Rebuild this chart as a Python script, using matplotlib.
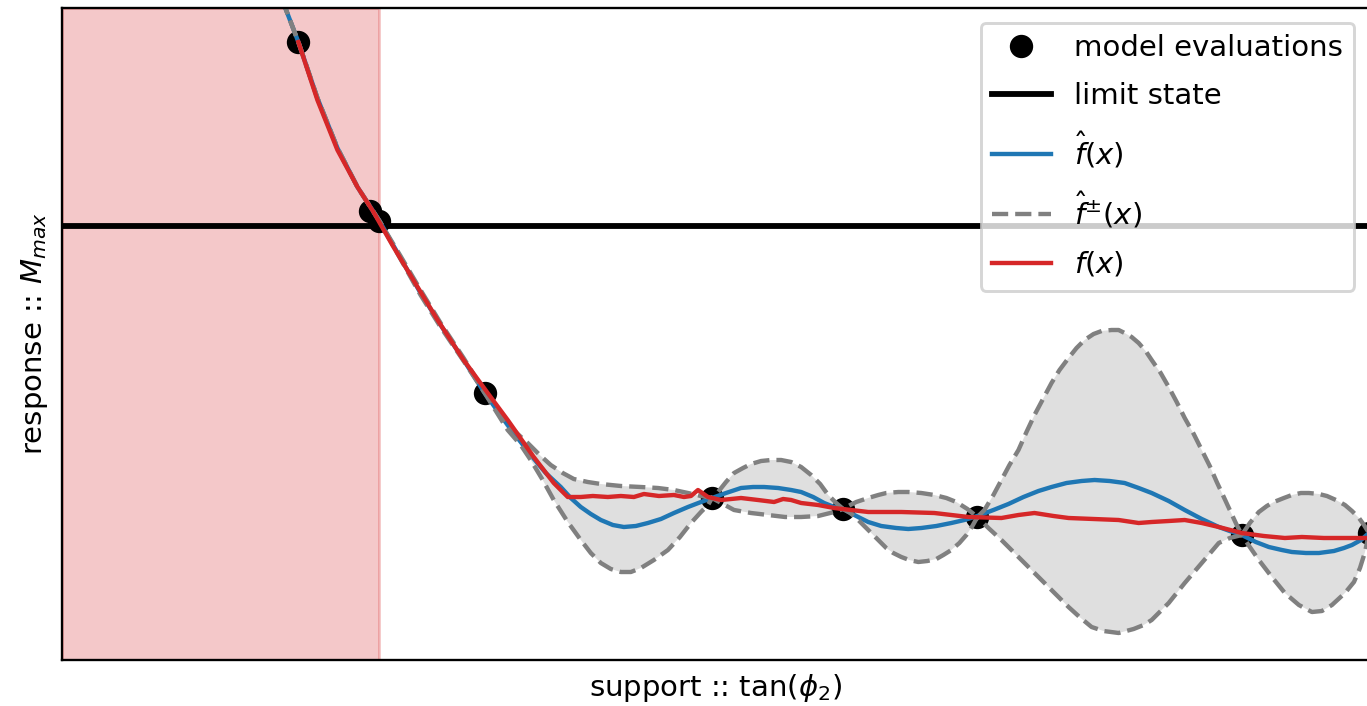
import numpy as np
import matplotlib
matplotlib.use("Agg")
import matplotlib.pyplot as plt

# axis units are arbitrary (no ticks shown): x = support, y = response
limit_state = 434
failure_edge = 317

# model evaluations
eval_x = [236, 308, 317, 422, 649, 780, 914, 1178, 1305]
eval_y = [618, 449, 439, 267, 162, 151, 143, 125, 127]

# true response f(x)
true_x = [236, 255, 275, 295, 311, 331, 355, 375, 401, 425, 445, 471, 491, 505,
          518, 530, 545, 558, 571, 581, 596, 611, 621, 628, 635, 645, 658, 668,
          678, 695, 711, 720, 728, 738, 755, 771, 788, 805, 838, 871, 905, 938,
          955, 971, 990, 1005, 1030, 1055, 1075, 1088, 1105, 1121, 1138, 1155,
          1178, 1200, 1221, 1238, 1260, 1288, 1305]
true_y = [618, 560, 510, 473, 448, 413, 373, 340, 300, 267, 240, 203, 177, 163,
          163, 164, 163, 164, 163, 166, 164, 165, 163, 164, 170, 163, 160, 161,
          162, 160, 158, 161, 160, 157, 155, 152, 150, 148, 148, 147, 143, 142,
          145, 147, 144, 142, 141, 140, 137, 138, 139, 140, 137, 133,
          127, 124, 122, 123, 122, 122, 122]

# surrogate mean f_hat(x)
mean_x = [214, 223, 236, 255, 275, 295, 317, 338, 358, 378, 401, 422, 445, 458,
          468, 483, 498, 508, 518, 528, 538, 550, 561, 573, 585, 598, 611, 625,
          638, 649, 663, 678, 690, 701, 715, 728, 738, 750, 761, 771, 780, 793,
          805, 818, 833, 845, 858, 873, 888, 901, 914, 930, 945, 960, 975, 988,
          1003, 1018, 1031, 1046, 1061, 1075, 1088, 1105, 1121, 1138, 1155, 1166,
          1178, 1192, 1205, 1218, 1228, 1242, 1255, 1270, 1280, 1288, 1297, 1305]
mean_y = [675, 652, 618, 562, 512, 473, 439, 402, 367, 335, 300, 267, 235, 218,
          205, 187, 173, 162, 153, 146, 140, 135, 133, 134, 137, 141, 147, 153,
          158, 162, 167, 172, 173, 173, 172, 170, 168, 163, 157, 153, 151, 144,
          138, 134, 132, 131, 132, 134, 137, 140, 144, 150, 156, 163, 169, 173,
          177, 179, 180, 179, 177, 172, 167, 159, 150, 141, 133, 129,
          125, 118, 113, 110, 108, 107, 107, 109, 112, 115, 120, 127]

# upper bound f_hat+(x)
upper_x = [214, 223, 236, 255, 275, 295, 317, 338, 358, 378, 401, 422, 445, 455,
           465, 477, 488, 500, 511, 525, 538, 558, 578, 595, 611, 625, 638, 649,
           655, 663, 671, 680, 688, 698, 708, 718, 728, 738, 748, 757, 765, 773,
           780, 787, 793, 805, 815, 823, 835, 845, 858, 871, 883, 893, 904, 914,
           921, 930, 938, 946, 955, 963, 971, 980, 988, 996, 1005, 1013, 1021,
           1030, 1038, 1048, 1055, 1061, 1068, 1075, 1082, 1088, 1097, 1105,
           1113, 1121, 1130, 1138, 1146, 1153, 1160, 1166, 1172, 1178, 1186,
           1195, 1203, 1210, 1220, 1228, 1237, 1245, 1255, 1263, 1272, 1281,
           1288, 1295, 1300, 1305]
upper_y = [675, 652, 618, 562, 512, 473, 439, 404, 370, 337, 302, 268, 236, 226,
           217, 205, 195, 187, 181, 178, 176, 174, 173, 172, 170, 167, 164, 162,
           168, 178, 187, 192, 196, 199, 200, 200, 198, 193, 185, 176, 165, 157,
           151, 155, 158, 162, 165, 167, 168, 168, 167, 165, 162, 158, 151, 143,
           150, 165, 180, 195, 210, 228, 245, 262, 277, 290, 302, 312, 320,
           326, 329, 330, 330, 327, 323, 317, 309, 300, 287, 273,
           258, 242, 226, 210, 194, 178, 163, 150, 137, 125, 137,
           148, 154, 158, 162, 165, 167, 167, 166, 164, 160, 155,
           149, 142, 135, 127]

# lower bound f_hat-(x)
lower_x = [214, 223, 236, 255, 275, 295, 317, 338, 358, 378, 401, 422, 445, 458,
           468, 480, 491, 505, 518, 528, 538, 548, 558, 568, 578, 591, 605, 617,
           628, 638, 645, 649, 660, 671, 688, 705, 722, 738, 755, 771, 780, 787,
           793, 799, 805, 814, 823, 830, 838, 846, 855, 864, 873, 880, 888, 896,
           903, 909, 914, 925, 938, 955, 971, 988, 1005, 1016, 1028, 1040, 1055,
           1070, 1080, 1088, 1105, 1121, 1138, 1155, 1166, 1178, 1186, 1195,
           1208, 1221, 1235, 1248, 1258, 1268, 1281, 1290, 1296, 1301, 1305]
lower_y = [675, 652, 618, 562, 512, 473, 439, 401, 365, 333, 299, 267, 230, 215,
           200, 180, 160, 138, 120, 107, 97, 91, 88, 88, 92, 100, 110, 123,
           137, 148, 155, 162, 156, 150, 147, 145, 143, 143, 144, 148, 151, 147,
           142, 136, 130, 121, 112, 107, 103, 100, 98, 99, 101, 105, 110, 117,
           125, 134, 143, 132, 120, 103, 87, 70, 53, 43, 33, 29, 27,
           31, 35, 40, 57, 77, 97, 117, 122, 125, 113, 100,
           83, 67, 55, 48, 49, 55, 67, 78, 92, 108, 127]

fig = plt.figure(figsize=(1367 / 210, 706 / 210), dpi=210)
ax = fig.add_axes([62 / 1367, 46 / 706, 1307 / 1367, 652 / 706])

ax.axvspan(0, failure_edge, color="tab:red", alpha=0.25)
ax.plot(eval_x, eval_y, "o", color="black", markersize=7, label="model evaluations")
ax.axhline(limit_state, color="black", lw=2, label="limit state")

ax.fill(np.concatenate([upper_x, lower_x[::-1]]),
        np.concatenate([upper_y, lower_y[::-1]]),
        color="grey", alpha=0.25, lw=0)
ax.plot(mean_x, mean_y, color="tab:blue", label=r"$\hat{f}(x)$")
ax.plot(upper_x, upper_y, "--", color="grey", label=r"$\hat{f}^{\pm}(x)$")
ax.plot(lower_x, lower_y, "--", color="grey")
ax.plot(true_x, true_y, color="tab:red", label=r"$f(x)$")

ax.set_xlim(0, 1305)
ax.set_ylim(0, 652)
ax.set_xticks([])
ax.set_yticks([])
ax.set_xlabel(r"support :: tan($\phi_2$)")
ax.set_ylabel(r"response :: $M_{max}$")
ax.legend(loc="upper right", labelspacing=0.68)

fig.savefig("out.png", dpi=210)
